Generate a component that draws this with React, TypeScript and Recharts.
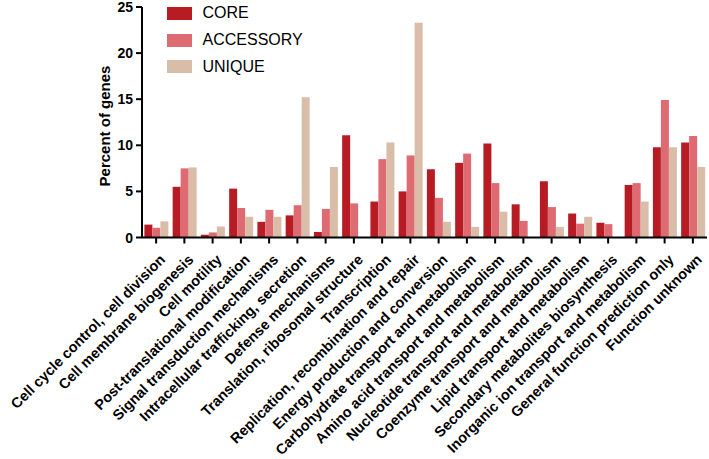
import React from 'react';
import { BarChart, Bar, XAxis, YAxis } from 'recharts';

const categories = [
  'Cell cycle control, cell division',
  'Cell membrane biogenesis',
  'Cell motility',
  'Post-translational modification',
  'Signal transduction mechanisms',
  'Intracellular trafficking, secretion',
  'Defense mechanisms',
  'Translation, ribosomal structure',
  'Transcription',
  'Replication, recombination and repair',
  'Energy production and conversion',
  'Carbohydrate transport and metabolism',
  'Amino acid transport and metabolism',
  'Nucleotide transport and metabolism',
  'Coenzyme transport and metabolism',
  'Lipid transport and metabolism',
  'Secondary metabolites biosynthesis',
  'Inorganic ion transport and metabolism',
  'General function prediction only',
  'Function unknown',
];

const core = [1.4, 5.5, 0.3, 5.3, 1.7, 2.4, 0.6, 11.1, 3.9, 5.0, 7.4, 8.1, 10.2, 3.6, 6.1, 2.6, 1.6, 5.7, 9.8, 10.3];
const accessory = [1.05, 7.5, 0.55, 3.2, 3.0, 3.5, 3.1, 3.7, 8.5, 8.9, 4.3, 9.1, 5.9, 1.8, 3.3, 1.5, 1.45, 5.9, 14.9, 11.0];
const unique = [1.75, 7.6, 1.2, 2.25, 2.25, 15.2, 7.65, 0, 10.3, 23.3, 1.7, 1.15, 2.8, 0, 1.15, 2.25, 0, 3.9, 9.8, 7.65];

const yTicks = [0, 5, 10, 15, 20, 25];

const seriesNames = ['CORE', 'ACCESSORY', 'UNIQUE'];
const colors = ['#B71C25', '#DE6A72', '#DABDA8'];

const data = categories.map((c, i) => ({
  name: c,
  CORE: core[i],
  ACCESSORY: accessory[i],
  UNIQUE: unique[i],
}));

const FONT = '"Liberation Sans", Arial, Helvetica, sans-serif';

const XTick = (props: any) => {
  const { x, y, payload } = props;
  return (
    <g transform={`translate(${x + 10},${y + 15})`}>
      <text
        transform="rotate(-45)"
        textAnchor="end"
        fontFamily={FONT}
        fontWeight="bold"
        fontSize={14.5}
        fill="#000"
      >
        {payload.value}
      </text>
    </g>
  );
};

const YTick = (props: any) => {
  const { x, y, payload } = props;
  return (
    <text
      x={x - 1}
      y={y + 5}
      textAnchor="end"
      fontFamily={FONT}
      fontWeight="bold"
      fontSize={14}
      fill="#000"
    >
      {payload.value}
    </text>
  );
};

const YLabel = () => (
  <text
    x={110}
    y={126}
    transform="rotate(-90,110,126)"
    textAnchor="middle"
    fontFamily={FONT}
    fontWeight="bold"
    fontSize={15}
    fill="#000"
  >
    Percent of genes
  </text>
);

export default function App() {
  return (
    <div style={{ position: 'absolute', left: 0, top: 0, width: 709, height: 459, background: '#fff' }}>
      <BarChart
        width={709}
        height={459}
        data={data}
        margin={{ top: 7, right: 2, bottom: 0, left: 0 }}
        barCategoryGap="8.5%"
        barGap={0}
      >
        <XAxis
          dataKey="name"
          interval={0}
          height={221.5}
          tick={<XTick />}
          axisLine={{ stroke: '#000', strokeWidth: 2 }}
          tickLine={{ stroke: '#000', strokeWidth: 2 }}
          tickSize={6}
        />
        <YAxis
          width={142}
          domain={[0, 25]}
          ticks={yTicks}
          interval={0}
          tick={<YTick />}
          axisLine={{ stroke: '#000', strokeWidth: 2 }}
          tickLine={{ stroke: '#000', strokeWidth: 2 }}
          tickSize={6}
          label={<YLabel />}
        />
        {seriesNames.map((s, i) => (
          <Bar key={s} dataKey={s} fill={colors[i]} isAnimationActive={false} />
        ))}
      </BarChart>
      <div style={{ position: 'absolute', left: 167, top: 0, display: 'flex', flexDirection: 'column' }}>
        {seriesNames.map((s, i) => (
          <div key={s} style={{ display: 'flex', alignItems: 'center', height: 26.7 }}>
            <div style={{ width: 25, height: 13, background: colors[i], marginRight: 10.5 }} />
            <span style={{ fontFamily: FONT, fontSize: 16, color: '#000', lineHeight: '16px' }}>{s}</span>
          </div>
        ))}
      </div>
    </div>
  );
}
